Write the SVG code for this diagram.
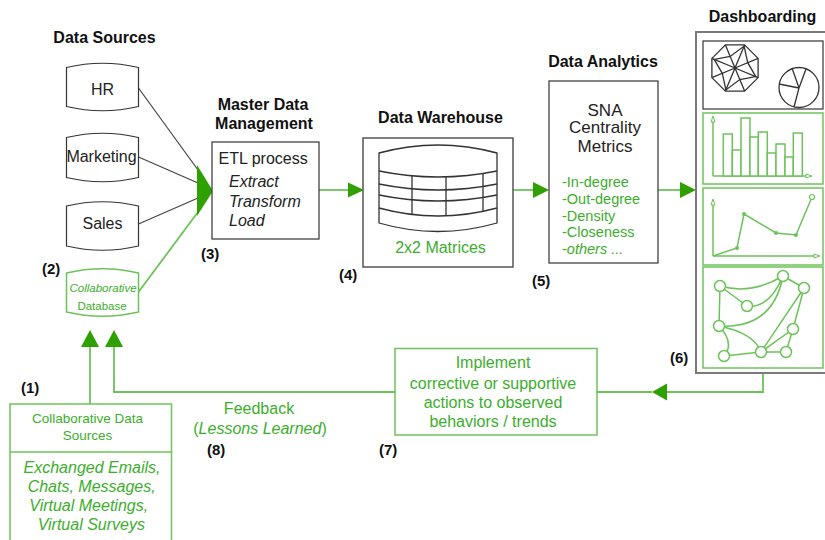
<svg xmlns="http://www.w3.org/2000/svg" width="825" height="540" viewBox="0 0 825 540">
<style>
text { font-family: "Liberation Sans", Arial, sans-serif; }
.t { font-weight: bold; font-size: 16px; fill: #111; text-anchor: middle; }
.n { font-weight: bold; font-size: 15px; fill: #111; }
.k { font-size: 16px; fill: #222; }
.c { text-anchor: middle; }
.i { font-style: italic; }
.g { fill: #3cae2c; }
.box { fill: #fff; stroke: #333; stroke-width: 1.2; }
.gbox { fill: #fff; stroke: #6cc35a; stroke-width: 1.5; }
.gl { fill: none; stroke: #6cc35a; stroke-width: 1.8; }
.dl { fill: none; stroke: #444; stroke-width: 1.2; }
.ah { fill: #2ea000; }
.dg { fill: none; stroke: #6cc35a; stroke-width: 1.5; }
.dk { fill: none; stroke: #333; stroke-width: 1.3; }
.nd { fill: #fff; stroke: #6cc35a; stroke-width: 1.5; }
</style>

<!-- Connectors -->
<g id="connectors">
  <line class="dl" x1="138.5" y1="88" x2="198" y2="170"/>
  <line class="dl" x1="138.5" y1="157" x2="198" y2="183"/>
  <line class="dl" x1="138.5" y1="224" x2="198" y2="198"/>
  <line class="gl" x1="138.5" y1="292" x2="198" y2="212"/>
  <polygon class="ah" points="197,165 213,191 197,216"/>

  <line class="gl" x1="319" y1="190" x2="349" y2="190"/>
  <polygon class="ah" points="348,182.5 364,190 348,197.5"/>

  <line class="gl" x1="513" y1="190" x2="534" y2="190"/>
  <polygon class="ah" points="533,182 549,190 533,198"/>

  <line class="gl" x1="658" y1="190" x2="681" y2="190"/>
  <polygon class="ah" points="680,182 696,190 680,198"/>

  <path class="gl" d="M763,373 V392 H666"/>
  <polygon class="ah" points="667,383.5 652,392 667,400.5"/>
  <line class="gl" x1="652" y1="392" x2="596" y2="392"/>

  <path class="gl" d="M395,392 H114 V346"/>
  <polygon class="ah" points="105,347 114,330 123,347"/>
  <line class="gl" x1="90" y1="404" x2="90" y2="346"/>
  <polygon class="ah" points="81,347 90,330 99,347"/>
</g>

<!-- Data sources -->
<text class="t" x="104.5" y="43">Data Sources</text>
<g id="hr">
  <path class="box" d="M66.5,67.5 Q102.5,59 138.5,67.5 L138.5,106.5 Q102.5,115 66.5,106.5 Z"/>
  <text class="k c" x="102.5" y="95">HR</text>
</g>
<g id="marketing">
  <path class="box" d="M66.5,137.5 Q102.5,129 138.5,137.5 L138.5,177.5 Q102.5,186 66.5,177.5 Z"/>
  <text class="k c" x="101.5" y="161.5">Marketing</text>
</g>
<g id="sales">
  <path class="box" d="M66.5,206 Q102.5,197.5 138.5,206 L138.5,246 Q102.5,254.5 66.5,246 Z"/>
  <text class="k c" x="102.5" y="229">Sales</text>
</g>
<g id="collab-db">
  <path class="gbox" d="M66.5,273 Q102.5,264.5 138.5,273 L138.5,312 Q102.5,320.5 66.5,312 Z"/>
  <text class="g c i" x="103" y="291.5" font-size="11.5">Collaborative</text>
  <text class="g c" x="102" y="310" font-size="11.5">Database</text>
</g>
<text class="n" x="42" y="274">(2)</text>

<!-- Master Data Management -->
<g id="etl">
  <text class="t" x="263" y="110">Master Data</text>
  <text class="t" x="264" y="129">Management</text>
  <rect class="box" x="212" y="142" width="107" height="97"/>
  <text class="k" x="218.5" y="164">ETL process</text>
  <text class="k i" x="229" y="186.5">Extract</text>
  <text class="k i" x="229" y="206.5">Transform</text>
  <text class="k i" x="229" y="226">Load</text>
</g>
<text class="n" x="201" y="258.5">(3)</text>

<!-- Data Warehouse -->
<g id="warehouse">
  <text class="t" x="440.5" y="122.5" font-size="15">Data Warehouse</text>
  <rect fill="#fff" stroke="#555" stroke-width="1.5" x="363" y="138" width="150" height="129"/>
  <path class="dk" d="M379,153 Q438,137 497,153 L497,223 Q438,240 379,223 Z"/>
  <path class="dk" d="M379,171 Q438,183 497,171 M379,184 Q438,196 497,184 M379,195 Q438,207 497,195 M379,208 Q438,224 497,208"/>
  <path class="dk" d="M412,175.8 V214.4 M446,176.9 V215.9 M483,173.5 V211.3"/>
  <text class="k c g" x="440.5" y="253">2x2 Matrices</text>
</g>
<text class="n" x="339" y="279.5">(4)</text>

<!-- Data Analytics -->
<g id="analytics">
  <text class="t" x="603" y="66.5">Data Analytics</text>
  <rect class="box" x="549" y="81" width="109" height="182"/>
  <text class="c" x="605" y="115.7" font-size="17" fill="#222">SNA</text>
  <text class="c" x="605" y="133.3" font-size="17" fill="#222">Centrality</text>
  <text class="c" x="605" y="151.7" font-size="17" fill="#222">Metrics</text>
  <text class="g" x="562" y="186.7" font-size="14.5">-In-degree</text>
  <text class="g" x="562" y="204" font-size="14.5">-Out-degree</text>
  <text class="g" x="562" y="220.7" font-size="14.5">-Density</text>
  <text class="g" x="562" y="237.3" font-size="14.5">-Closeness</text>
  <text class="g" x="562" y="254" font-size="14.5">-<tspan font-style="italic">others ...</tspan></text>
</g>
<text class="n" x="532" y="286">(5)</text>

<!-- Dashboarding -->
<g id="dashboard">
  <text class="t" x="762.5" y="21.5">Dashboarding</text>
  <rect fill="#fff" stroke="#7a7a7a" stroke-width="2" x="696" y="32" width="140" height="341"/>
  <!-- panel 1 -->
  <rect fill="#fff" stroke="#444" stroke-width="1.3" x="703" y="41" width="120" height="68"/>
  <polygon class="dk" points="744.6,44.9 758.1,58.4 758.1,77.6 744.6,91.1 725.4,91.1 711.9,77.6 711.9,58.4 725.4,44.9"/>
  <path class="dk" d="M735,68 L744.6,44.9 M735,68 L758.1,58.4 M735,68 L758.1,77.6 M735,68 L744.6,91.1 M735,68 L725.4,91.1 M735,68 L711.9,77.6 M735,68 L711.9,58.4 M735,68 L725.4,44.9"/>
  <polygon class="dk" points="744.1,46.1 747.7,62.7 755.8,76.6 739.8,79.6 725.9,89.9 722.3,73.3 714.2,59.4 730.2,56.5"/>
  <circle class="dk" cx="799" cy="87.5" r="20"/>
  <path class="dk" d="M799,88 L792,68 M799,88 L806,69 M799,88 L779,84 M799,88 L794,107"/>
  <!-- panel 2: bar chart -->
  <rect class="gbox" x="703" y="113" width="120" height="71"/>
  <path class="dg" d="M713,176 V120 M713,176 H806"/>
  <polygon fill="#fff" stroke="#6cc35a" stroke-width="1" points="711,122 713,116 715,122"/>
  <polygon fill="#fff" stroke="#6cc35a" stroke-width="1" points="806,174 812,176 806,178"/>
  <g fill="#fff" stroke="#6cc35a" stroke-width="1.5">
    <rect x="723.3" y="134" width="9" height="42"/>
    <rect x="732.3" y="150" width="8.7" height="26"/>
    <rect x="741" y="118" width="9" height="58"/>
    <rect x="750" y="137" width="8.3" height="39"/>
    <rect x="758.3" y="132" width="9" height="44"/>
    <rect x="767.3" y="153" width="8.7" height="23"/>
    <rect x="776" y="144" width="9" height="32"/>
    <rect x="785" y="157" width="8.3" height="19"/>
    <rect x="793.3" y="133" width="9" height="43"/>
  </g>
  <!-- panel 3: line chart -->
  <rect class="gbox" x="703" y="188" width="120" height="77"/>
  <path class="dg" d="M713,256 V203 M713,256 H814"/>
  <polygon fill="#fff" stroke="#6cc35a" stroke-width="1" points="711,205 713,199 715,205"/>
  <polygon fill="#fff" stroke="#6cc35a" stroke-width="1" points="814,254 820,256 814,258"/>
  <polyline class="dg" points="713,256 737,248 744,214 776,233 796,235 812,197"/>
  <g fill="#6cc35a">
    <circle cx="737" cy="248" r="2"/>
    <circle cx="744" cy="214" r="2"/>
    <circle cx="776" cy="233" r="2"/>
    <circle cx="796" cy="235" r="2"/>
  </g>
  <circle fill="#fff" stroke="#6cc35a" stroke-width="1.2" cx="812" cy="197" r="2.5"/>
  <!-- panel 4: network -->
  <rect class="gbox" x="703" y="267" width="120" height="101"/>
  <path class="dg" d="M720,286 Q751.5,295 783,276 M720,286 L747,306 M747,306 Q769,309 783,276 M719,326 Q773,329 783,276 M783,276 L804,288 M804,288 L793,329 M804,288 L761,352 M719,326 Q754,333 761,352 M719,326 Q735,343 724,356 M720,286 L719,326 M724,356 L761,352 M761,352 L786,352 M761,352 L793,329 M793,329 L786,352"/>
  <circle class="nd" cx="720" cy="286" r="5.5"/>
  <circle class="nd" cx="783" cy="276" r="5.5"/>
  <circle class="nd" cx="804" cy="288" r="5.5"/>
  <circle class="nd" cx="747" cy="306" r="5.5"/>
  <circle class="nd" cx="719" cy="326" r="5.5"/>
  <circle class="nd" cx="793" cy="329" r="5.5"/>
  <circle class="nd" cx="724" cy="356" r="5.5"/>
  <circle class="nd" cx="761" cy="352" r="5.5"/>
  <circle class="nd" cx="786" cy="352" r="5.5"/>
</g>
<text class="n" x="670" y="363">(6)</text>

<!-- Implement -->
<g id="implement">
  <rect class="gbox" x="395" y="348.5" width="202" height="86.5"/>
  <text class="k c g" x="493" y="368.3">Implement</text>
  <text class="k c g" x="493" y="389.3">corrective or supportive</text>
  <text class="k c g" x="493" y="408.3">actions to observed</text>
  <text class="k c g" x="493" y="427.3">behaviors / trends</text>
</g>
<text class="n" x="379" y="455">(7)</text>

<!-- Feedback -->
<g id="feedback">
  <text class="k c g" x="259" y="414">Feedback</text>
  <text class="k c g" x="260" y="433.5">(<tspan font-style="italic">Lessons Learned</tspan>)</text>
</g>
<text class="n" x="207" y="455">(8)</text>

<!-- Collaborative Data Sources -->
<g id="collab-sources">
  <rect class="gbox" x="10" y="404" width="161.5" height="150"/>
  <line class="dg" x1="10" y1="452" x2="171.5" y2="452"/>
  <text class="c g" x="87.5" y="423.3" font-size="13.5">Collaborative Data</text>
  <text class="c g" x="87.5" y="440" font-size="13.5">Sources</text>
  <text class="k c g i" x="92" y="473.3">Exchanged Emails,</text>
  <text class="k c g i" x="91.7" y="492">Chats, Messages,</text>
  <text class="k c g i" x="88.7" y="511">Virtual Meetings,</text>
  <text class="k c g i" x="91.3" y="530">Virtual Surveys</text>
</g>
<text class="n" x="21" y="393">(1)</text>
</svg>
